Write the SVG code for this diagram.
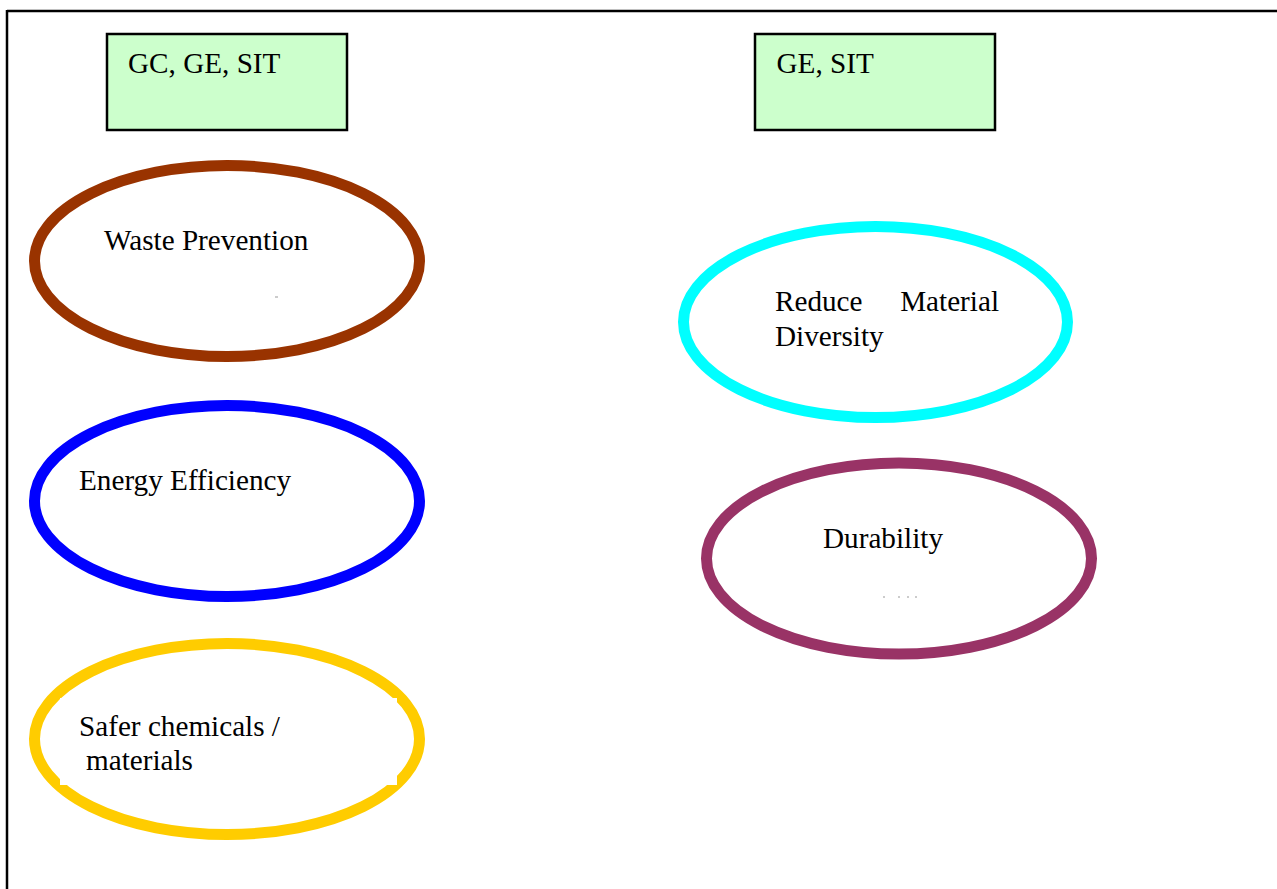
<svg xmlns="http://www.w3.org/2000/svg" width="1277" height="889" viewBox="0 0 1277 889">
<style>
  .t { font-family: "Liberation Serif", "Times New Roman", serif; font-size: 29.2px; fill: #000; }
  .box { fill: #ccffcc; stroke: #000; stroke-width: 2.5; }
  .ell { fill: #fff; stroke-width: 11; }
</style>
<rect x="0" y="0" width="1277" height="889" fill="#fff"/>
<g id="frame">
  <line x1="7" y1="11" x2="1277" y2="11" stroke="#000" stroke-width="2.5"/>
  <line x1="7" y1="10" x2="7" y2="889" stroke="#000" stroke-width="2.5"/>
</g>
<g id="box-gc-ge-sit">
  <rect class="box" x="107" y="34" width="240" height="96"/>
  <text class="t" x="128" y="72.5">GC, GE, SIT</text>
</g>
<g id="box-ge-sit">
  <rect class="box" x="755" y="34" width="240" height="96"/>
  <text class="t" x="776.5" y="72.5">GE, SIT</text>
</g>
<g id="waste-prevention">
  <ellipse class="ell" cx="227" cy="261" rx="192.5" ry="95.5" stroke="#993300"/>
  <text class="t" x="104" y="250">Waste Prevention</text>
  <rect x="275" y="296.5" width="3" height="1" fill="#999"/>
</g>
<g id="energy-efficiency">
  <ellipse class="ell" cx="227" cy="501" rx="192.5" ry="95.5" stroke="#0000ff"/>
  <text class="t" x="79" y="489.5">Energy Efficiency</text>
</g>
<g id="safer-chemicals">
  <ellipse class="ell" cx="227" cy="739" rx="192.5" ry="95.5" stroke="#ffcc00"/>
  <rect x="60" y="698" width="337" height="87" fill="#fff"/>
  <text class="t" x="79" y="736">Safer chemicals /</text>
  <text class="t" x="86" y="769.5">materials</text>
</g>
<g id="reduce-material-diversity">
  <ellipse class="ell" cx="875.5" cy="322" rx="192" ry="95.5" stroke="#00ffff"/>
  <text class="t" x="775" y="311">Reduce</text>
  <text class="t" x="999" y="311" text-anchor="end">Material</text>
  <text class="t" x="775" y="346">Diversity</text>
</g>
<g id="durability">
  <ellipse class="ell" cx="899" cy="558.5" rx="192.5" ry="95.5" stroke="#993366"/>
  <text class="t" x="823" y="548">Durability</text>
  <g fill="#999">
    <rect x="883" y="596.5" width="2" height="1"/>
    <rect x="898" y="596.5" width="2" height="1"/>
    <rect x="907" y="596.5" width="2" height="1"/>
    <rect x="915" y="596.5" width="2" height="1"/>
  </g>
</g>
<g id="connectors"></g>
</svg>
